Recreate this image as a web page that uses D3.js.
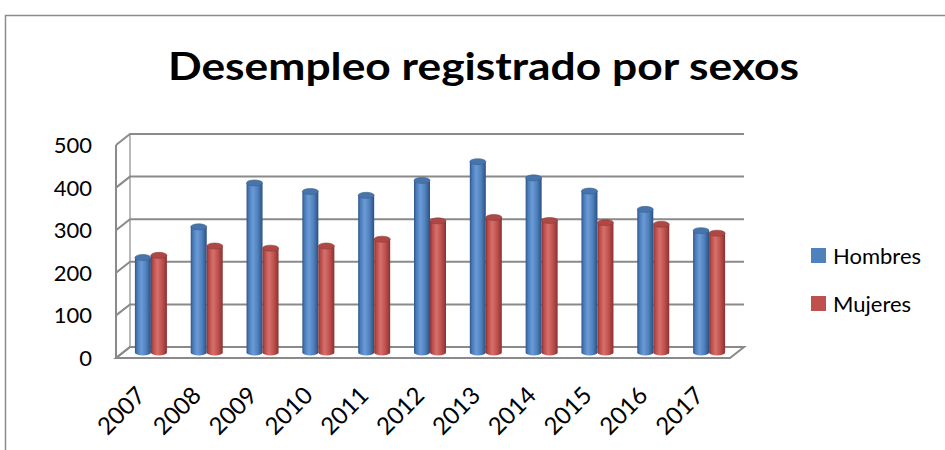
<!DOCTYPE html>
<html>
  <head>
    <meta charset="utf-8">
    <title>Desempleo registrado por sexos</title>
    <script src="https://d3js.org/d3.v7.min.js"></script>
    <style>
      body { margin: 0; background: #fff; }
      text { font-family: Lato, "Open Sans", sans-serif; }
    </style>
  </head>
  <body>
    <script>

      // data
      var years   = ["2007", "2008", "2009", "2010", "2011", "2012", "2013", "2014", "2015", "2016", "2017"];
      var hombres = [223, 295, 398, 378, 369, 404, 448, 410, 379, 336, 286];
      var mujeres = [228, 250, 245, 250, 266, 309, 317, 310, 305, 301, 280];
      var seriesNames = ["Hombres", "Mujeres"];
      var yTicks = [0, 100, 200, 300, 400, 500];

      var colors = {Hombres: "#4f81bd", Mujeres: "#c0504d"};

      var width = 945, height = 450;
      var depthX = 14, depthY = -11; // wall depth offset (front -> back)

      var svg = d3.select("body").append("svg")
        .attr("width", width)
        .attr("height", height);

      // gradients for the cylinders
      var defs = svg.append("defs");
      var grads = {
        Hombres: ["#2f5586", "#4a7cbb", "#6a9bd6", "#4f81bd", "#2c5081"],
        Mujeres: ["#8d3431", "#bb4d4a", "#d6706c", "#c0504d", "#883330"]
      };
      seriesNames.forEach(function(s) {
        var g = defs.append("linearGradient").attr("id", "g-" + s)
          .attr("x1", "0%").attr("x2", "100%");
        grads[s].forEach(function(c, i) {
          g.append("stop").attr("offset", [0, 0.15, 0.4, 0.7, 1][i]).attr("stop-color", c);
        });
      });

      // chart border
      svg.append("path")
        .attr("d", "M5.5,450 V15.5 H945")
        .attr("fill", "none")
        .attr("stroke", "#8c8c8c")
        .attr("stroke-width", 1.5);

      // title
      svg.append("text")
        .attr("x", 168)
        .attr("y", 80)
        .attr("font-family", "'Open Sans', sans-serif")
        .attr("font-size", 38)
        .attr("font-weight", "bold")
        .attr("textLength", 631)
        .attr("lengthAdjust", "spacingAndGlyphs")
        .text("Desempleo registrado por sexos");

      // scales (front plane)
      var x = d3.scaleBand().domain(years).range([116, 730]);
      var y = d3.scaleLinear().domain([0, 500]).range([358, 145]);
      var x1 = d3.scaleBand().domain(seriesNames).range([-16, 16]);

      var grid = svg.append("g")
        .attr("fill", "none")
        .attr("stroke", "#8a8a8a")
        .attr("stroke-width", 2);

      // floor
      grid.append("path")
        .attr("d", "M" + x.range()[0] + "," + y(0) +
          " L" + x.range()[1] + "," + y(0) +
          " L" + (x.range()[1] + depthX) + "," + (y(0) + depthY) +
          " L" + (x.range()[0] + depthX) + "," + (y(0) + depthY) + " Z")
        .attr("fill", "#fff");

      // side wall + back wall grid lines
      yTicks.forEach(function(t) {
        grid.append("path")
          .attr("d", "M" + x.range()[0] + "," + y(t) +
            " L" + (x.range()[0] + depthX) + "," + (y(t) + depthY) +
            " L" + (x.range()[1] + depthX) + "," + (y(t) + depthY));
      });
      grid.append("line")
        .attr("x1", x.range()[0]).attr("x2", x.range()[0])
        .attr("y1", y(500)).attr("y2", y(0));
      grid.append("line")
        .attr("x1", x.range()[0] + depthX).attr("x2", x.range()[0] + depthX)
        .attr("y1", y(500) + depthY).attr("y2", y(0) + depthY)
        .attr("stroke-width", 1.2);

      // y labels
      svg.append("g").selectAll("text")
        .data(yTicks)
        .join("text")
        .attr("x", 92)
        .attr("y", function(d) { return y(d); })
        .attr("dy", "0.36em")
        .attr("text-anchor", "end")
        .attr("font-size", 22)
        .text(function(d) { return d; });

      // cylinders, placed at mid depth
      var midX = depthX / 2, midY = depthY / 2;
      var rows = [];
      years.forEach(function(yr, i) {
        rows.push({year: yr, s: "Hombres", v: hombres[i]});
        rows.push({year: yr, s: "Mujeres", v: mujeres[i]});
      });

      var bw = x1.bandwidth(), ry = 3;
      var bars = svg.append("g").selectAll("g")
        .data(rows)
        .join("g")
        .attr("transform", function(d) {
          return "translate(" + (x(d.year) + x.bandwidth() / 2 + midX + x1(d.s)) + "," + midY + ")";
        });

      bars.append("ellipse")
        .attr("cx", bw / 2)
        .attr("cy", y(0))
        .attr("rx", bw / 2)
        .attr("ry", ry)
        .attr("fill", function(d) { return "url(#g-" + d.s + ")"; });
      bars.append("rect")
        .attr("x", 0)
        .attr("y", function(d) { return y(d.v); })
        .attr("width", bw)
        .attr("height", function(d) { return y(0) - y(d.v); })
        .attr("fill", function(d) { return "url(#g-" + d.s + ")"; });
      bars.append("ellipse")
        .attr("cx", bw / 2)
        .attr("cy", function(d) { return y(d.v); })
        .attr("rx", bw / 2)
        .attr("ry", ry)
        .attr("fill", function(d) { return d3.color(colors[d.s]).darker(0.3); })
        .attr("stroke", function(d) { return d3.color(colors[d.s]).darker(0.8); })
        .attr("stroke-width", 0.6);

      // x labels
      svg.append("g").selectAll("text")
        .data(years)
        .join("text")
        .attr("transform", function(d) {
          return "translate(" + (x(d) + x.bandwidth() / 2 - 3) + ",391) rotate(-45)";
        })
        .attr("text-anchor", "end")
        .attr("dy", "0.35em")
        .attr("font-size", 24)
        .text(function(d) { return d; });

      // legend
      var leg = svg.append("g").selectAll("g")
        .data(seriesNames)
        .join("g")
        .attr("transform", function(d, i) { return "translate(811," + (248 + i * 48) + ")"; });
      leg.append("rect")
        .attr("width", 15)
        .attr("height", 15)
        .attr("fill", function(d) { return colors[d]; });
      leg.append("text")
        .attr("x", 22)
        .attr("y", 8)
        .attr("dy", "0.36em")
        .attr("font-size", 22)
        .text(function(d) { return d; });

    </script>
  </body>
</html>
